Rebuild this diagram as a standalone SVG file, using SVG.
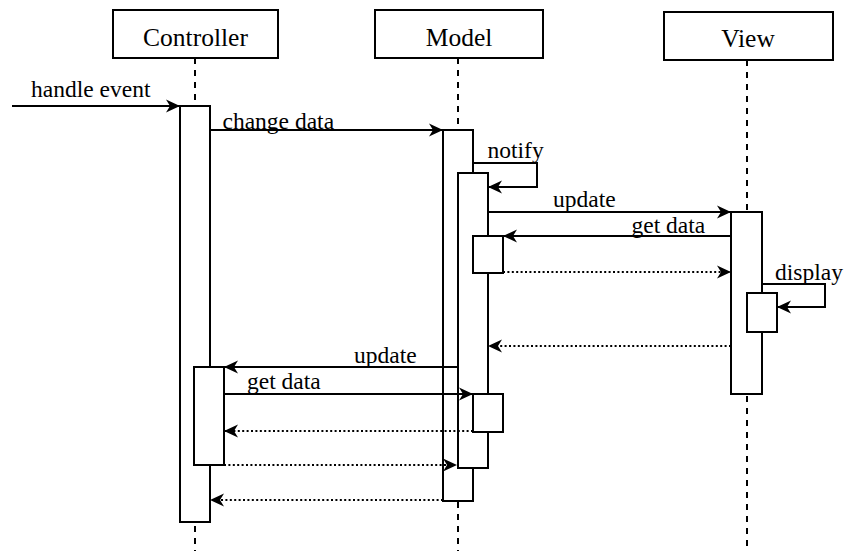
<svg xmlns="http://www.w3.org/2000/svg" width="845" height="551" viewBox="0 0 845 551">
<style>
.box{fill:#fff;stroke:#000;stroke-width:2}
.act{fill:#fff;stroke:#000;stroke-width:2}
.life{fill:none;stroke:#000;stroke-width:2;stroke-dasharray:6 6}
.msg{fill:none;stroke:#000;stroke-width:2;marker-end:url(#arr)}
.ret{fill:none;stroke:#000;stroke-width:2;stroke-dasharray:2 2.4;marker-end:url(#arr)}
.hd{font-family:"Liberation Serif","Times New Roman",serif;font-size:25.5px;text-anchor:middle;fill:#000}
.lb{font-family:"Liberation Serif","Times New Roman",serif;font-size:23.5px;fill:#000}
</style>
<defs>
<marker id="arr" markerUnits="userSpaceOnUse" viewBox="0 0 14 14" refX="14" refY="7" markerWidth="14" markerHeight="14" orient="auto">
<path d="M0,0.5 L14,7 L0,13.5 L4,7 Z" fill="#000"/>
</marker>
</defs>
<rect width="845" height="551" fill="#fff"/>
<g id="controller">
<line class="life" x1="195" y1="58" x2="195" y2="551"/>
<rect class="box" x="113" y="10" width="165" height="48"/>
<text class="hd" x="195.5" y="46">Controller</text>
<rect class="act" x="180" y="106" width="30" height="416"/>
<rect class="act" x="194" y="367" width="30" height="98"/>
</g>
<g id="model">
<line class="life" x1="458" y1="58" x2="458" y2="551"/>
<rect class="box" x="375" y="10" width="168" height="48"/>
<text class="hd" x="459" y="46">Model</text>
<rect class="act" x="443" y="130" width="30" height="371"/>
<rect class="act" x="458" y="173" width="30" height="295"/>
<rect class="act" x="473" y="236" width="30" height="37"/>
<rect class="act" x="473" y="394" width="30" height="38"/>
</g>
<g id="view">
<line class="life" x1="747" y1="60" x2="747" y2="551"/>
<rect class="box" x="664" y="12" width="169" height="48"/>
<text class="hd" x="748" y="47">View</text>
<rect class="act" x="731" y="212" width="31" height="182"/>
<rect class="act" x="747" y="293" width="30" height="39"/>
</g>
<g id="connectors">
<path class="msg" d="M12,106 H180"/>
<path class="msg" d="M210,130 H443"/>
<path class="msg" d="M474,163 H537 V187 H488"/>
<path class="msg" d="M488,212 H731"/>
<path class="msg" d="M731,236 H503"/>
<path class="ret" d="M503,272 H731"/>
<path class="msg" d="M762,284 H825 V307 H777"/>
<path class="ret" d="M731,346 H488"/>
<path class="msg" d="M458,367 H224"/>
<path class="msg" d="M224,394 H473"/>
<path class="ret" d="M473,431 H224"/>
<path class="ret" d="M224,465 H457"/>
<path class="ret" d="M443,500 H210"/>
</g>
<g id="labels">
<text class="lb" x="31" y="97">handle event</text>
<text class="lb" x="222.5" y="129">change data</text>
<text class="lb" x="487.5" y="158">notify</text>
<text class="lb" x="553" y="207">update</text>
<text class="lb" x="631.5" y="233">get data</text>
<text class="lb" x="775" y="280">display</text>
<text class="lb" x="354" y="362.5">update</text>
<text class="lb" x="247" y="388.5">get data</text>
</g>
</svg>
